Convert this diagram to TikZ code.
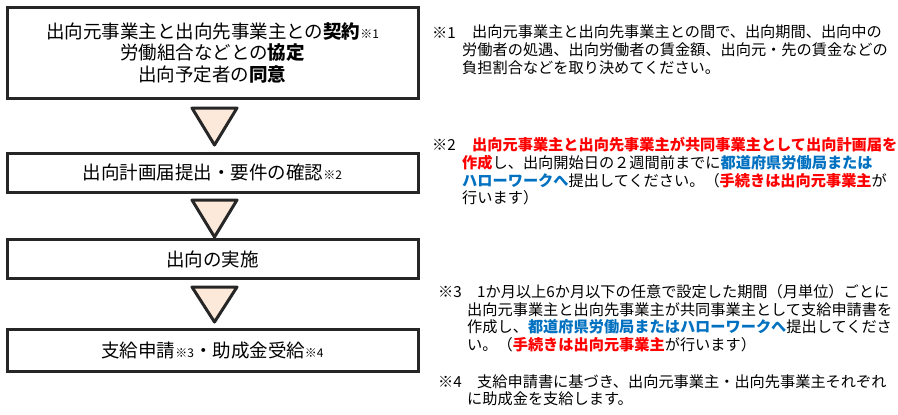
\documentclass[tikz,border=0pt]{standalone}
\usepackage{fontspec}
\setmainfont{Noto Sans CJK JP}
\usepackage{xcolor}
\definecolor{boxline}{HTML}{262626}
\definecolor{trifill}{HTML}{FDE9D9}
\definecolor{notered}{HTML}{FF0000}
\definecolor{noteblue}{HTML}{0070C0}
\newcommand{\rd}[1]{\textcolor{notered}{\bfseries #1}}
\newcommand{\bl}[1]{\textcolor{noteblue}{\bfseries #1}}
\newcommand{\mk}[1]{{\fontsize{12}{12}\selectfont ※#1}}

\begin{document}
\begin{tikzpicture}[x=1pt, y=-1pt,
  stepbox/.style={draw=boxline, line width=3pt, fill=white, inner sep=0pt,
    minimum width=411pt, align=center, font=\fontsize{18.5}{21.5}\selectfont},
  arrowtri/.style={draw=boxline, line width=3pt, fill=trifill, line join=round},
  notemark/.style={anchor=west, inner sep=0pt, font=\fontsize{15.2}{17.8}\selectfont},
  notetext/.style={anchor=north west, inner sep=0pt, align=left,
    font=\fontsize{15.2}{17.8}\selectfont}]
  \useasboundingbox (0,0) rectangle (898,415);
  % flow boxes
  \node[stepbox, minimum height=91pt] (contract) at (212.5,52.5)
    {出向元事業主と出向先事業主との\textbf{契約}\mk{1}\\労働組合などとの\textbf{協定}\\出向予定者の\textbf{同意}};
  \node[stepbox, minimum height=38.5pt] (plan) at (212.5,172.75) {出向計画届提出・要件の確認\mk{2}};
  \node[stepbox, minimum height=39pt] (dispatch) at (212.5,259) {出向の実施};
  \node[stepbox, minimum height=42pt] (claim) at (212.5,350.5) {支給申請\mk{3}・助成金受給\mk{4}};
  % down triangles
  \foreach \ty/\th in {108/37,200/37,287/35}
    \draw[arrowtri] (192,\ty) -- (237,\ty) -- (214.5,\ty+\th) -- cycle;
  % notes
  \node[notemark] (mark1) at (432,33) {※1};
  \node[notetext] (note1) at (462,25)
    {\hspace*{10pt}出向元事業主と出向先事業主との間で、出向期間、出向中の\\労働者の処遇、出向労働者の賃金額、出向元・先の賃金などの\\負担割合などを取り決めてください。};
  \node[notemark] (mark2) at (432,145) {※2};
  \node[notetext] (note2) at (462,137)
    {\hspace*{10pt}\rd{出向元事業主と出向先事業主が共同事業主として出向計画届を}\\\rd{作成}し、出向開始日の２週間前までに\bl{都道府県労働局または}\\\bl{ハローワークへ}提出してください。（\rd{手続きは出向元事業主}が\\行います）};
  \node[notemark] (mark3) at (438,292) {※3};
  \node[notetext] (note3) at (467,284)
    {\hspace*{10pt}1か月以上6か月以下の任意で設定した期間（月単位）ごとに\\出向元事業主と出向先事業主が共同事業主として支給申請書を\\作成し、\bl{都道府県労働局またはハローワークへ}提出してくださ\\い。（\rd{手続きは出向元事業主}が行います）};
  \node[notemark] (mark4) at (438,382) {※4};
  \node[notetext] (note4) at (467,374)
    {\hspace*{10pt}支給申請書に基づき、出向元事業主・出向先事業主それぞれ\\に助成金を支給します。};
\end{tikzpicture}
\end{document}
